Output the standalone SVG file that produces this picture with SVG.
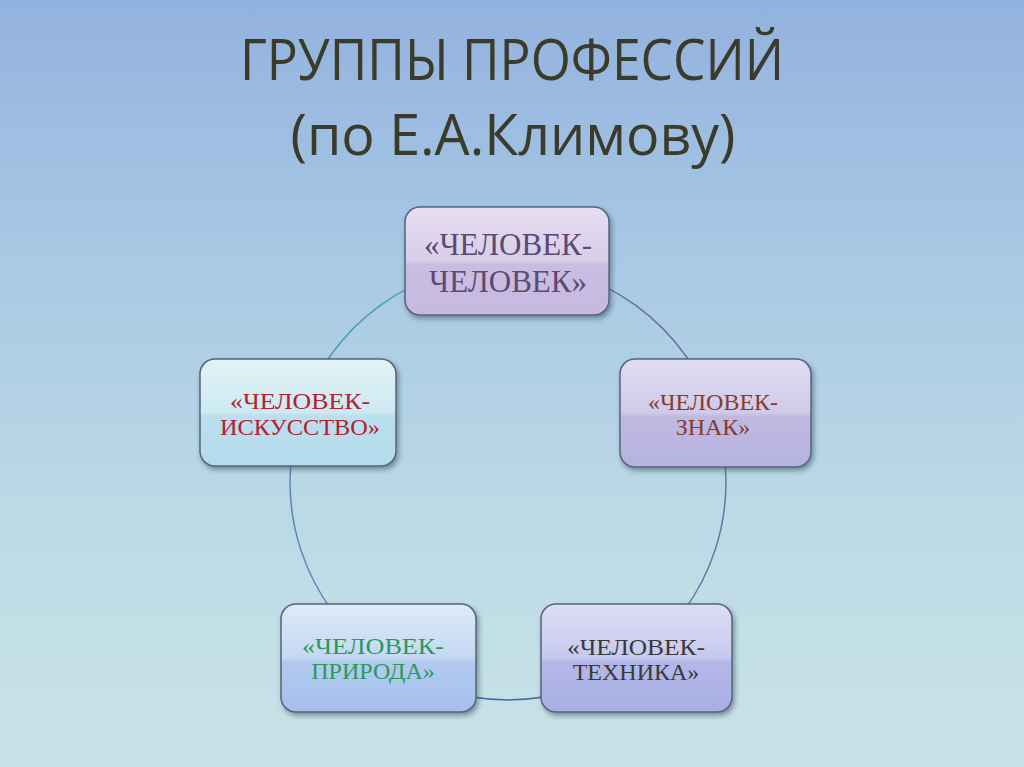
<svg xmlns="http://www.w3.org/2000/svg" width="1024" height="767" viewBox="0 0 1024 767">
<defs>
<linearGradient id="bg" x1="0" y1="0" x2="0" y2="1">
<stop offset="0" stop-color="#92b2df"/>
<stop offset="0.35" stop-color="#a9c9e4"/>
<stop offset="0.7" stop-color="#bddbe6"/>
<stop offset="1" stop-color="#c9e2e6"/>
</linearGradient>
<linearGradient id="gTop" x1="0" y1="0" x2="0" y2="1">
<stop offset="0" stop-color="#e6def2"/>
<stop offset="0.5" stop-color="#d8cde9"/>
<stop offset="0.53" stop-color="#cabde2"/>
<stop offset="1" stop-color="#c6b8df"/>
</linearGradient>
<linearGradient id="gLeft" x1="0" y1="0" x2="0" y2="1">
<stop offset="0" stop-color="#e2f3f8"/>
<stop offset="0.5" stop-color="#cde9f2"/>
<stop offset="0.53" stop-color="#bcdfee"/>
<stop offset="1" stop-color="#b3dbec"/>
</linearGradient>
<linearGradient id="gRight" x1="0" y1="0" x2="0" y2="1">
<stop offset="0" stop-color="#e0dcf0"/>
<stop offset="0.5" stop-color="#cfcae8"/>
<stop offset="0.53" stop-color="#bfbae2"/>
<stop offset="1" stop-color="#b6b2e0"/>
</linearGradient>
<linearGradient id="gBL" x1="0" y1="0" x2="0" y2="1">
<stop offset="0" stop-color="#deebf8"/>
<stop offset="0.5" stop-color="#c3d8f2"/>
<stop offset="0.53" stop-color="#b2caee"/>
<stop offset="1" stop-color="#a6c0ec"/>
</linearGradient>
<linearGradient id="gBR" x1="0" y1="0" x2="0" y2="1">
<stop offset="0" stop-color="#dcdef4"/>
<stop offset="0.5" stop-color="#c6c9ee"/>
<stop offset="0.53" stop-color="#b4b8e8"/>
<stop offset="1" stop-color="#a9aee5"/>
</linearGradient>
<filter id="sh" x="-10%" y="-10%" width="125%" height="130%">
<feDropShadow dx="2" dy="3" stdDeviation="2.5" flood-color="#1a2a3a" flood-opacity="0.45"/>
</filter>
</defs>
<style>
.box{stroke:#56657a;stroke-width:1.5;filter:url(#sh)}
.lbl{font-family:"Liberation Serif","Times New Roman",serif;text-anchor:middle}
.title{font-family:"Open Sans","DejaVu Sans",sans-serif;font-size:56px;fill:#3b3b2c;text-anchor:middle}
.conn{fill:none;stroke-width:1.5}
</style>
<rect width="1024" height="767" fill="url(#bg)"/>
<g id="title">
<text class="title" x="512" y="80" textLength="544" lengthAdjust="spacingAndGlyphs">ГРУППЫ ПРОФЕССИЙ</text>
<text class="title" x="513" y="155" textLength="445" lengthAdjust="spacingAndGlyphs">(по Е.А.Климову)</text>
</g>
<g id="connectors">
<path class="conn" stroke="#6a6f9e" d="M508,264 A218,218 0 0 1 715.3,414.6"/>
<path class="conn" stroke="#5a7aa8" d="M715.3,414.6 A218,218 0 0 1 636.1,658.4"/>
<path class="conn" stroke="#4d6aa6" d="M636.1,658.4 A218,218 0 0 1 379.9,658.4"/>
<path class="conn" stroke="#5a88b6" d="M379.9,658.4 A218,218 0 0 1 300.7,414.6"/>
<path class="conn" stroke="#4a9cc2" d="M300.7,414.6 A218,218 0 0 1 508,264"/>
</g>
<g id="node-chelovek">
<rect class="box" x="405" y="207" width="204" height="108" rx="15" fill="url(#gTop)"/>
<text class="lbl" x="508" y="255" font-size="31" fill="#5b4a72">«ЧЕЛОВЕК-</text>
<text class="lbl" x="508" y="292" font-size="31" fill="#5b4a72">ЧЕЛОВЕК»</text>
</g>
<g id="node-iskusstvo">
<rect class="box" x="200" y="359" width="196" height="107" rx="15" fill="url(#gLeft)"/>
<text class="lbl" x="300" y="409" font-size="24" fill="#b5202e" textLength="140" lengthAdjust="spacingAndGlyphs">«ЧЕЛОВЕК-</text>
<text class="lbl" x="300" y="435" font-size="24" fill="#b5202e" textLength="160" lengthAdjust="spacingAndGlyphs">ИСКУССТВО»</text>
</g>
<g id="node-znak">
<rect class="box" x="620" y="359" width="191" height="108" rx="15" fill="url(#gRight)"/>
<text class="lbl" x="713" y="410" font-size="24" fill="#8a3b2b">«ЧЕЛОВЕК-</text>
<text class="lbl" x="713" y="435" font-size="24" fill="#8a3b2b">ЗНАК»</text>
</g>
<g id="node-priroda">
<rect class="box" x="281" y="604" width="195" height="108" rx="15" fill="url(#gBL)"/>
<text class="lbl" x="373" y="654" font-size="24" fill="#2a9a5c" textLength="142" lengthAdjust="spacingAndGlyphs">«ЧЕЛОВЕК-</text>
<text class="lbl" x="373" y="679" font-size="24" fill="#2a9a5c">ПРИРОДА»</text>
</g>
<g id="node-tehnika">
<rect class="box" x="541" y="604" width="191" height="108" rx="15" fill="url(#gBR)"/>
<text class="lbl" x="636" y="655" font-size="24" fill="#3a3a3c" textLength="138" lengthAdjust="spacingAndGlyphs">«ЧЕЛОВЕК-</text>
<text class="lbl" x="636" y="680" font-size="24" fill="#3a3a3c">ТЕХНИКА»</text>
</g>
</svg>
